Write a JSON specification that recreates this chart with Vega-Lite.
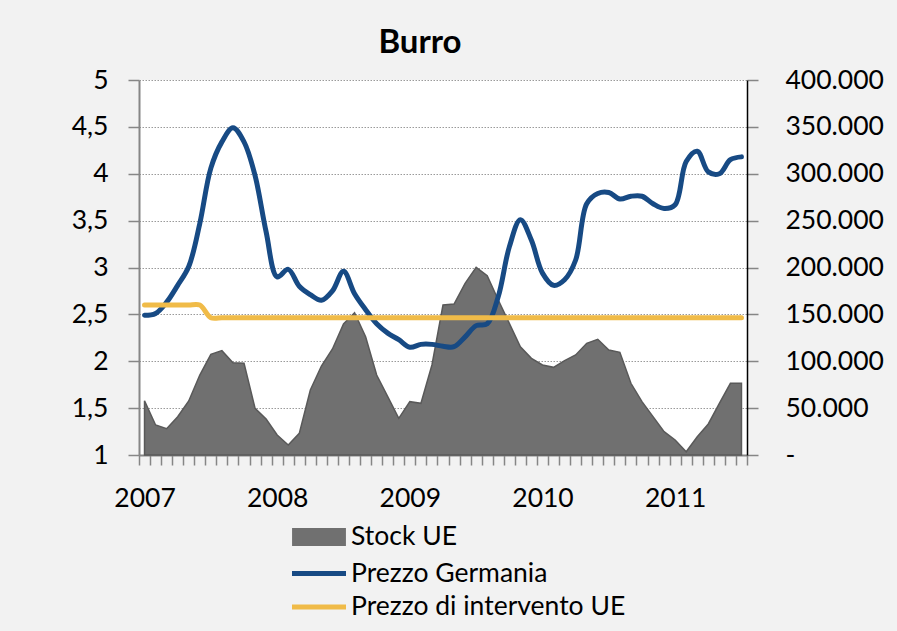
{
  "$schema": "https://vega.github.io/schema/vega-lite/v6.json",
  "autosize": "none",
  "width": 608,
  "height": 375,
  "padding": {"left": 139, "top": 80, "right": 150, "bottom": 176},
  "background": "#f2f2f2",
  "config": {
    "locale": {"number": {"decimal": ",", "thousands": ".", "grouping": [3], "currency": ["€", ""]}},
    "view": {"fill": "white", "stroke": null},
    "font": "Lato"
  },
  "title": {"text": "Burro", "font": "Lato", "fontSize": 33, "fontWeight": "bold", "color": "black", "anchor": "middle", "dx": -23, "offset": 7},
  "data": {"values": [
    {"mese": "2007-01", "serie": "Stock UE", "valore": 57900},
    {"mese": "2007-02", "serie": "Stock UE", "valore": 32000},
    {"mese": "2007-03", "serie": "Stock UE", "valore": 28100},
    {"mese": "2007-04", "serie": "Stock UE", "valore": 40900},
    {"mese": "2007-05", "serie": "Stock UE", "valore": 57600},
    {"mese": "2007-06", "serie": "Stock UE", "valore": 85300},
    {"mese": "2007-07", "serie": "Stock UE", "valore": 107400},
    {"mese": "2007-08", "serie": "Stock UE", "valore": 111300},
    {"mese": "2007-09", "serie": "Stock UE", "valore": 98500},
    {"mese": "2007-10", "serie": "Stock UE", "valore": 97800},
    {"mese": "2007-11", "serie": "Stock UE", "valore": 49800},
    {"mese": "2007-12", "serie": "Stock UE", "valore": 38400},
    {"mese": "2008-01", "serie": "Stock UE", "valore": 21300},
    {"mese": "2008-02", "serie": "Stock UE", "valore": 10700},
    {"mese": "2008-03", "serie": "Stock UE", "valore": 23100},
    {"mese": "2008-04", "serie": "Stock UE", "valore": 69300},
    {"mese": "2008-05", "serie": "Stock UE", "valore": 94900},
    {"mese": "2008-06", "serie": "Stock UE", "valore": 113100},
    {"mese": "2008-07", "serie": "Stock UE", "valore": 139700},
    {"mese": "2008-08", "serie": "Stock UE", "valore": 151800},
    {"mese": "2008-09", "serie": "Stock UE", "valore": 126200},
    {"mese": "2008-10", "serie": "Stock UE", "valore": 85300},
    {"mese": "2008-11", "serie": "Stock UE", "valore": 62200},
    {"mese": "2008-12", "serie": "Stock UE", "valore": 39100},
    {"mese": "2009-01", "serie": "Stock UE", "valore": 56900},
    {"mese": "2009-02", "serie": "Stock UE", "valore": 55100},
    {"mese": "2009-03", "serie": "Stock UE", "valore": 96000},
    {"mese": "2009-04", "serie": "Stock UE", "valore": 160000},
    {"mese": "2009-05", "serie": "Stock UE", "valore": 161000},
    {"mese": "2009-06", "serie": "Stock UE", "valore": 183100},
    {"mese": "2009-07", "serie": "Stock UE", "valore": 200200},
    {"mese": "2009-08", "serie": "Stock UE", "valore": 191300},
    {"mese": "2009-09", "serie": "Stock UE", "valore": 165300},
    {"mese": "2009-10", "serie": "Stock UE", "valore": 140400},
    {"mese": "2009-11", "serie": "Stock UE", "valore": 115500},
    {"mese": "2009-12", "serie": "Stock UE", "valore": 103100},
    {"mese": "2010-01", "serie": "Stock UE", "valore": 96000},
    {"mese": "2010-02", "serie": "Stock UE", "valore": 93500},
    {"mese": "2010-03", "serie": "Stock UE", "valore": 100600},
    {"mese": "2010-04", "serie": "Stock UE", "valore": 106700},
    {"mese": "2010-05", "serie": "Stock UE", "valore": 119100},
    {"mese": "2010-06", "serie": "Stock UE", "valore": 123400},
    {"mese": "2010-07", "serie": "Stock UE", "valore": 112000},
    {"mese": "2010-08", "serie": "Stock UE", "valore": 109500},
    {"mese": "2010-09", "serie": "Stock UE", "valore": 76500},
    {"mese": "2010-10", "serie": "Stock UE", "valore": 56900},
    {"mese": "2010-11", "serie": "Stock UE", "valore": 40900},
    {"mese": "2010-12", "serie": "Stock UE", "valore": 24900},
    {"mese": "2011-01", "serie": "Stock UE", "valore": 16000},
    {"mese": "2011-02", "serie": "Stock UE", "valore": 3500},
    {"mese": "2011-03", "serie": "Stock UE", "valore": 19500},
    {"mese": "2011-04", "serie": "Stock UE", "valore": 33100},
    {"mese": "2011-05", "serie": "Stock UE", "valore": 55100},
    {"mese": "2011-06", "serie": "Stock UE", "valore": 76500},
    {"mese": "2011-07", "serie": "Stock UE", "valore": 76500},
    {"mese": "2007-01", "serie": "Prezzo Germania", "valore": 2.49},
    {"mese": "2007-02", "serie": "Prezzo Germania", "valore": 2.51},
    {"mese": "2007-03", "serie": "Prezzo Germania", "valore": 2.63},
    {"mese": "2007-04", "serie": "Prezzo Germania", "valore": 2.81},
    {"mese": "2007-05", "serie": "Prezzo Germania", "valore": 3.01},
    {"mese": "2007-06", "serie": "Prezzo Germania", "valore": 3.47},
    {"mese": "2007-07", "serie": "Prezzo Germania", "valore": 4.06},
    {"mese": "2007-08", "serie": "Prezzo Germania", "valore": 4.34},
    {"mese": "2007-09", "serie": "Prezzo Germania", "valore": 4.49},
    {"mese": "2007-10", "serie": "Prezzo Germania", "valore": 4.34},
    {"mese": "2007-11", "serie": "Prezzo Germania", "valore": 3.98},
    {"mese": "2007-12", "serie": "Prezzo Germania", "valore": 3.38},
    {"mese": "2008-01", "serie": "Prezzo Germania", "valore": 2.9},
    {"mese": "2008-02", "serie": "Prezzo Germania", "valore": 2.98},
    {"mese": "2008-03", "serie": "Prezzo Germania", "valore": 2.8},
    {"mese": "2008-04", "serie": "Prezzo Germania", "valore": 2.71},
    {"mese": "2008-05", "serie": "Prezzo Germania", "valore": 2.65},
    {"mese": "2008-06", "serie": "Prezzo Germania", "valore": 2.75},
    {"mese": "2008-07", "serie": "Prezzo Germania", "valore": 2.96},
    {"mese": "2008-08", "serie": "Prezzo Germania", "valore": 2.72},
    {"mese": "2008-09", "serie": "Prezzo Germania", "valore": 2.55},
    {"mese": "2008-10", "serie": "Prezzo Germania", "valore": 2.4},
    {"mese": "2008-11", "serie": "Prezzo Germania", "valore": 2.3},
    {"mese": "2008-12", "serie": "Prezzo Germania", "valore": 2.23},
    {"mese": "2009-01", "serie": "Prezzo Germania", "valore": 2.15},
    {"mese": "2009-02", "serie": "Prezzo Germania", "valore": 2.18},
    {"mese": "2009-03", "serie": "Prezzo Germania", "valore": 2.18},
    {"mese": "2009-04", "serie": "Prezzo Germania", "valore": 2.16},
    {"mese": "2009-05", "serie": "Prezzo Germania", "valore": 2.155},
    {"mese": "2009-06", "serie": "Prezzo Germania", "valore": 2.26},
    {"mese": "2009-07", "serie": "Prezzo Germania", "valore": 2.38},
    {"mese": "2009-08", "serie": "Prezzo Germania", "valore": 2.4},
    {"mese": "2009-09", "serie": "Prezzo Germania", "valore": 2.69},
    {"mese": "2009-10", "serie": "Prezzo Germania", "valore": 3.22},
    {"mese": "2009-11", "serie": "Prezzo Germania", "valore": 3.51},
    {"mese": "2009-12", "serie": "Prezzo Germania", "valore": 3.29},
    {"mese": "2010-01", "serie": "Prezzo Germania", "valore": 2.94},
    {"mese": "2010-02", "serie": "Prezzo Germania", "valore": 2.81},
    {"mese": "2010-03", "serie": "Prezzo Germania", "valore": 2.87},
    {"mese": "2010-04", "serie": "Prezzo Germania", "valore": 3.08},
    {"mese": "2010-05", "serie": "Prezzo Germania", "valore": 3.68},
    {"mese": "2010-06", "serie": "Prezzo Germania", "valore": 3.79},
    {"mese": "2010-07", "serie": "Prezzo Germania", "valore": 3.8},
    {"mese": "2010-08", "serie": "Prezzo Germania", "valore": 3.73},
    {"mese": "2010-09", "serie": "Prezzo Germania", "valore": 3.76},
    {"mese": "2010-10", "serie": "Prezzo Germania", "valore": 3.76},
    {"mese": "2010-11", "serie": "Prezzo Germania", "valore": 3.68},
    {"mese": "2010-12", "serie": "Prezzo Germania", "valore": 3.63},
    {"mese": "2011-01", "serie": "Prezzo Germania", "valore": 3.67},
    {"mese": "2011-02", "serie": "Prezzo Germania", "valore": 4.13},
    {"mese": "2011-03", "serie": "Prezzo Germania", "valore": 4.24},
    {"mese": "2011-04", "serie": "Prezzo Germania", "valore": 4.02},
    {"mese": "2011-05", "serie": "Prezzo Germania", "valore": 4.0},
    {"mese": "2011-06", "serie": "Prezzo Germania", "valore": 4.15},
    {"mese": "2011-07", "serie": "Prezzo Germania", "valore": 4.18},
    {"mese": "2007-01", "serie": "Prezzo di intervento UE", "valore": 2.6},
    {"mese": "2007-02", "serie": "Prezzo di intervento UE", "valore": 2.6},
    {"mese": "2007-03", "serie": "Prezzo di intervento UE", "valore": 2.6},
    {"mese": "2007-04", "serie": "Prezzo di intervento UE", "valore": 2.6},
    {"mese": "2007-05", "serie": "Prezzo di intervento UE", "valore": 2.6},
    {"mese": "2007-06", "serie": "Prezzo di intervento UE", "valore": 2.6},
    {"mese": "2007-07", "serie": "Prezzo di intervento UE", "valore": 2.465},
    {"mese": "2007-08", "serie": "Prezzo di intervento UE", "valore": 2.465},
    {"mese": "2007-09", "serie": "Prezzo di intervento UE", "valore": 2.465},
    {"mese": "2007-10", "serie": "Prezzo di intervento UE", "valore": 2.465},
    {"mese": "2007-11", "serie": "Prezzo di intervento UE", "valore": 2.465},
    {"mese": "2007-12", "serie": "Prezzo di intervento UE", "valore": 2.465},
    {"mese": "2008-01", "serie": "Prezzo di intervento UE", "valore": 2.465},
    {"mese": "2008-02", "serie": "Prezzo di intervento UE", "valore": 2.465},
    {"mese": "2008-03", "serie": "Prezzo di intervento UE", "valore": 2.465},
    {"mese": "2008-04", "serie": "Prezzo di intervento UE", "valore": 2.465},
    {"mese": "2008-05", "serie": "Prezzo di intervento UE", "valore": 2.465},
    {"mese": "2008-06", "serie": "Prezzo di intervento UE", "valore": 2.465},
    {"mese": "2008-07", "serie": "Prezzo di intervento UE", "valore": 2.465},
    {"mese": "2008-08", "serie": "Prezzo di intervento UE", "valore": 2.465},
    {"mese": "2008-09", "serie": "Prezzo di intervento UE", "valore": 2.465},
    {"mese": "2008-10", "serie": "Prezzo di intervento UE", "valore": 2.465},
    {"mese": "2008-11", "serie": "Prezzo di intervento UE", "valore": 2.465},
    {"mese": "2008-12", "serie": "Prezzo di intervento UE", "valore": 2.465},
    {"mese": "2009-01", "serie": "Prezzo di intervento UE", "valore": 2.465},
    {"mese": "2009-02", "serie": "Prezzo di intervento UE", "valore": 2.465},
    {"mese": "2009-03", "serie": "Prezzo di intervento UE", "valore": 2.465},
    {"mese": "2009-04", "serie": "Prezzo di intervento UE", "valore": 2.465},
    {"mese": "2009-05", "serie": "Prezzo di intervento UE", "valore": 2.465},
    {"mese": "2009-06", "serie": "Prezzo di intervento UE", "valore": 2.465},
    {"mese": "2009-07", "serie": "Prezzo di intervento UE", "valore": 2.465},
    {"mese": "2009-08", "serie": "Prezzo di intervento UE", "valore": 2.465},
    {"mese": "2009-09", "serie": "Prezzo di intervento UE", "valore": 2.465},
    {"mese": "2009-10", "serie": "Prezzo di intervento UE", "valore": 2.465},
    {"mese": "2009-11", "serie": "Prezzo di intervento UE", "valore": 2.465},
    {"mese": "2009-12", "serie": "Prezzo di intervento UE", "valore": 2.465},
    {"mese": "2010-01", "serie": "Prezzo di intervento UE", "valore": 2.465},
    {"mese": "2010-02", "serie": "Prezzo di intervento UE", "valore": 2.465},
    {"mese": "2010-03", "serie": "Prezzo di intervento UE", "valore": 2.465},
    {"mese": "2010-04", "serie": "Prezzo di intervento UE", "valore": 2.465},
    {"mese": "2010-05", "serie": "Prezzo di intervento UE", "valore": 2.465},
    {"mese": "2010-06", "serie": "Prezzo di intervento UE", "valore": 2.465},
    {"mese": "2010-07", "serie": "Prezzo di intervento UE", "valore": 2.465},
    {"mese": "2010-08", "serie": "Prezzo di intervento UE", "valore": 2.465},
    {"mese": "2010-09", "serie": "Prezzo di intervento UE", "valore": 2.465},
    {"mese": "2010-10", "serie": "Prezzo di intervento UE", "valore": 2.465},
    {"mese": "2010-11", "serie": "Prezzo di intervento UE", "valore": 2.465},
    {"mese": "2010-12", "serie": "Prezzo di intervento UE", "valore": 2.465},
    {"mese": "2011-01", "serie": "Prezzo di intervento UE", "valore": 2.465},
    {"mese": "2011-02", "serie": "Prezzo di intervento UE", "valore": 2.465},
    {"mese": "2011-03", "serie": "Prezzo di intervento UE", "valore": 2.465},
    {"mese": "2011-04", "serie": "Prezzo di intervento UE", "valore": 2.465},
    {"mese": "2011-05", "serie": "Prezzo di intervento UE", "valore": 2.465},
    {"mese": "2011-06", "serie": "Prezzo di intervento UE", "valore": 2.465},
    {"mese": "2011-07", "serie": "Prezzo di intervento UE", "valore": 2.465}
  ]},
  "layer": [
    {
      "transform": [{"filter": "datum.serie === 'Stock UE'"}],
      "mark": {"type": "area", "stroke": "#595959", "strokeWidth": 1.5, "strokeJoin": "miter", "opacity": 1},
      "encoding": {
        "x": {"field": "mese", "type": "ordinal", "scale": {"type": "band", "paddingInner": 0, "paddingOuter": 0}, "bandPosition": 0.5,
          "axis": {"title": null, "tickBand": "extent", "labelExpr": "substring(datum.value,5,7) == '01' ? substring(datum.value,0,4) : ''", "labelAngle": 0, "labelOverlap": false, "domainColor": "#868686", "domainWidth": 2, "tickColor": "#868686", "tickWidth": 1.5, "tickSize": 10, "labelPadding": 20, "labelFont": "Lato", "labelFontSize": 26.5, "labelColor": "black", "grid": false}},
        "y": {"field": "valore", "type": "quantitative", "scale": {"domain": [0, 400000], "nice": false},
          "axis": {"orient": "right", "title": null, "values": [0, 50000, 100000, 150000, 200000, 250000, 300000, 350000, 400000], "format": ",d", "labelExpr": "datum.value === 0 ? '-' : datum.label", "grid": false, "domainColor": "black", "domainWidth": 1.5, "tickColor": "#868686", "tickWidth": 1.5, "tickSize": 11, "labelPadding": 27, "labelFont": "Lato", "labelFontSize": 26.5, "labelColor": "black", "labelAlign": "left"}},
        "color": {"field": "serie", "type": "nominal",
          "scale": {"domain": ["Stock UE", "Prezzo Germania", "Prezzo di intervento UE"], "range": ["#707070", "#174A84", "#F0BB48"]},
          "legend": {"orient": "none", "legendX": 164, "legendY": 441, "direction": "vertical", "title": null, "labelFont": "Lato", "labelFontSize": 26.5, "labelColor": "black", "labelLimit": 500, "labelOffset": 16, "rowPadding": 3.5, "symbolSize": 729, "symbolStrokeWidth": 5, "symbolOpacity": 1,
            "symbolType": {"expr": "datum.value === 'Stock UE' ? 'M-1.81,-0.48H1.81V0.48H-1.81Z' : 'M-2,0H2'"},
            "symbolStrokeColor": {"expr": "datum.value === 'Stock UE' ? '#6a6a6a' : (datum.value === 'Prezzo Germania' ? '#174A84' : '#F0BB48')"}
          }
        }
      }
    },
    {
      "transform": [{"filter": "datum.serie !== 'Stock UE'"}],
      "mark": {"type": "line", "strokeWidth": 5, "interpolate": "catmull-rom", "strokeCap": "round", "strokeJoin": "round"},
      "encoding": {
        "x": {"field": "mese", "type": "ordinal", "scale": {"type": "band", "paddingInner": 0, "paddingOuter": 0}, "bandPosition": 0.5},
        "y": {"field": "valore", "type": "quantitative", "scale": {"domain": [1, 5], "nice": false, "zero": false},
          "axis": {"orient": "left", "title": null, "values": [1, 1.5, 2, 2.5, 3, 3.5, 4, 4.5, 5], "format": ".1~f", "grid": true, "gridColor": "#9a9a9a", "gridDash": [1.5, 1.5], "gridWidth": 1, "domainColor": "#868686", "domainWidth": 2, "tickColor": "#868686", "tickWidth": 1.5, "tickSize": 11, "labelPadding": 20, "labelFont": "Lato", "labelFontSize": 26.5, "labelColor": "black"}},
        "color": {"field": "serie", "type": "nominal", "legend": null}
      }
    }
  ],
  "resolve": {"scale": {"y": "independent"}, "axis": {"y": "independent"}}
}
